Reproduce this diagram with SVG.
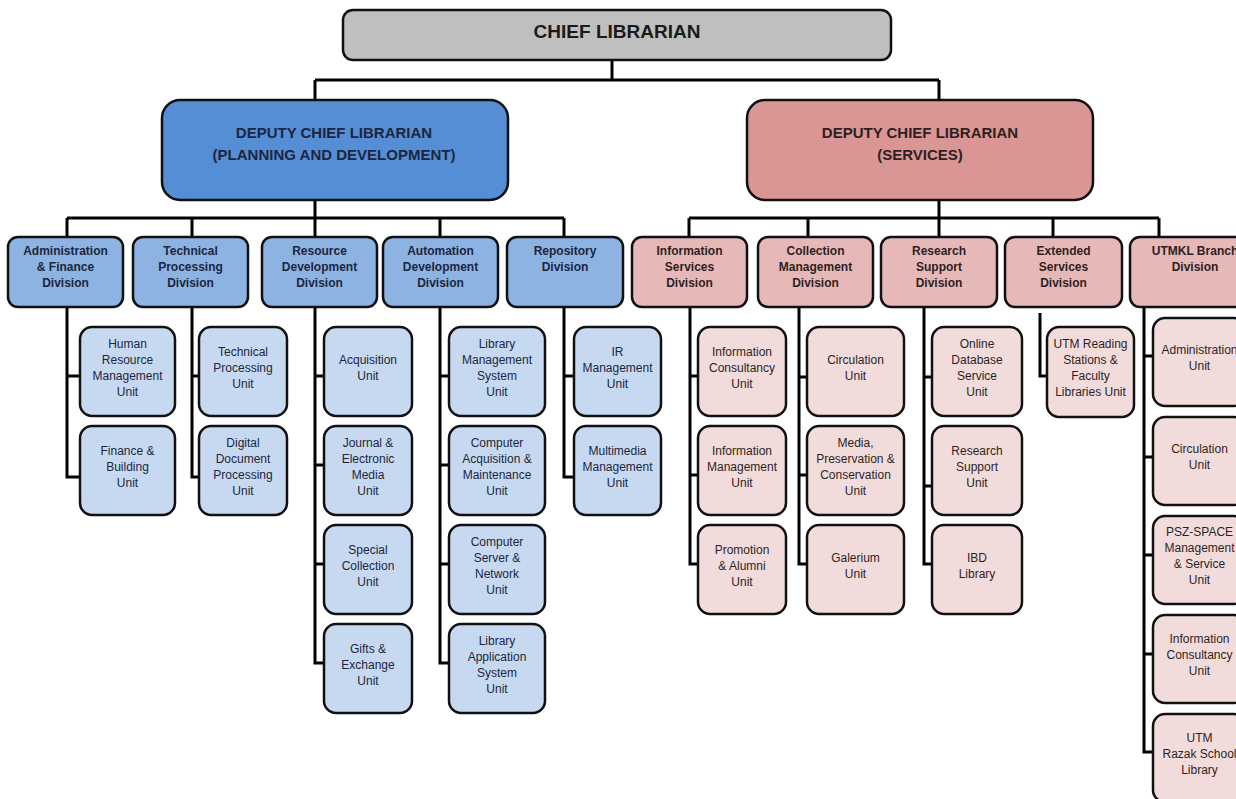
<svg xmlns="http://www.w3.org/2000/svg" width="1236" height="799" viewBox="0 0 1236 799">
<style>
.box{stroke:#111;stroke-width:2.5}
.chief{fill:#bfbfbf}
.dep-b{fill:#558ed5}
.dep-r{fill:#d99694}
.div-b{fill:#8db3e2}
.div-r{fill:#e6b9b8}
.unit-b{fill:#c6d9f1}
.unit-r{fill:#f2dcdb}
#connectors path{fill:none;stroke:#000;stroke-width:3}
text{font-family:"Liberation Sans",Arial,sans-serif;text-anchor:middle}
.tb{fill:#1c2640}
.tr{fill:#2e1f22}
.big{font-size:19px;font-weight:bold;fill:#1a1a1a}
.dep{font-size:15px;font-weight:bold}
.dv{font-size:12px;font-weight:bold}
.un{font-size:12px}
</style>
<rect width="1236" height="799" fill="#fff"/>
<g id="connectors">
<path d="M612 60V80M315 80H939M315 80V100M939 80V100"/>
<path d="M315 200V237M67 218H564M67 218V237M192 218V237M440 218V237M564 218V237"/>
<path d="M939 200V237M689 218H1159M689 218V237M808 218V237M1053 218V237M1159 218V237"/>
<path d="M67 307V477H80M67 376H80"/>
<path d="M192 307V477H199M192 376H199"/>
<path d="M315 307V663H324M315 376H324M315 465H324M315 564H324"/>
<path d="M440 307V663H449M440 376H449M440 465H449M440 564H449"/>
<path d="M564 307V477H574M564 376H574"/>
<path d="M690 307V564H698M690 376H698M690 475H698"/>
<path d="M799 307V564H807M799 377H807M799 475H807"/>
<path d="M924 307V564H932M924 377H932M924 486H932"/>
<path d="M1040 313V376H1047"/>
<path d="M1144 307V752H1153M1144 356H1153M1144 457H1153M1144 555H1153M1144 654H1153"/>
</g>
<g id="chief"><rect class="box chief" x="343" y="10" width="548" height="50" rx="10"/><text class="big" x="617" y="38">CHIEF LIBRARIAN</text></g>
<g id="dep-pd"><rect class="box dep-b" x="162" y="100" width="346" height="100" rx="18"/><text class="dep tb" x="334" y="138">DEPUTY CHIEF LIBRARIAN</text><text class="dep tb" x="334" y="160">(PLANNING AND DEVELOPMENT)</text></g>
<g id="dep-sv"><rect class="box dep-r" x="747" y="100" width="346" height="100" rx="18"/><text class="dep tr" x="920" y="138">DEPUTY CHIEF LIBRARIAN</text><text class="dep tr" x="920" y="160">(SERVICES)</text></g>

<g id="div-admin"><rect class="box div-b" x="8" y="237" width="115" height="70" rx="10"/><text class="dv tb" x="65.5" y="255">Administration</text><text class="dv tb" x="65.5" y="271">&amp; Finance</text><text class="dv tb" x="65.5" y="287">Division</text></g>
<g id="div-tech"><rect class="box div-b" x="133" y="237" width="115" height="70" rx="10"/><text class="dv tb" x="190.5" y="255">Technical</text><text class="dv tb" x="190.5" y="271">Processing</text><text class="dv tb" x="190.5" y="287">Division</text></g>
<g id="div-res"><rect class="box div-b" x="262" y="237" width="115" height="70" rx="10"/><text class="dv tb" x="319.5" y="255">Resource</text><text class="dv tb" x="319.5" y="271">Development</text><text class="dv tb" x="319.5" y="287">Division</text></g>
<g id="div-auto"><rect class="box div-b" x="383" y="237" width="115" height="70" rx="10"/><text class="dv tb" x="440.5" y="255">Automation</text><text class="dv tb" x="440.5" y="271">Development</text><text class="dv tb" x="440.5" y="287">Division</text></g>
<g id="div-repo"><rect class="box div-b" x="507" y="237" width="116" height="70" rx="10"/><text class="dv tb" x="565" y="255">Repository</text><text class="dv tb" x="565" y="271">Division</text></g>
<g id="div-info"><rect class="box div-r" x="632" y="237" width="115" height="70" rx="10"/><text class="dv tr" x="689.5" y="255">Information</text><text class="dv tr" x="689.5" y="271">Services</text><text class="dv tr" x="689.5" y="287">Division</text></g>
<g id="div-coll"><rect class="box div-r" x="758" y="237" width="115" height="70" rx="10"/><text class="dv tr" x="815.5" y="255">Collection</text><text class="dv tr" x="815.5" y="271">Management</text><text class="dv tr" x="815.5" y="287">Division</text></g>
<g id="div-rs"><rect class="box div-r" x="881" y="237" width="116" height="70" rx="10"/><text class="dv tr" x="939" y="255">Research</text><text class="dv tr" x="939" y="271">Support</text><text class="dv tr" x="939" y="287">Division</text></g>
<g id="div-ext"><rect class="box div-r" x="1005" y="237" width="117" height="70" rx="10"/><text class="dv tr" x="1063.5" y="255">Extended</text><text class="dv tr" x="1063.5" y="271">Services</text><text class="dv tr" x="1063.5" y="287">Division</text></g>
<g id="div-utmkl"><rect class="box div-r" x="1130" y="237" width="132" height="70" rx="10"/><text class="dv tr" x="1195" y="255">UTMKL Branch</text><text class="dv tr" x="1195" y="271">Division</text></g>

<g id="u-hr"><rect class="box unit-b" x="80" y="327" width="95" height="89" rx="12"/><text class="un tb" x="127.5" y="347.5">Human</text><text class="un tb" x="127.5" y="363.5">Resource</text><text class="un tb" x="127.5" y="379.5">Management</text><text class="un tb" x="127.5" y="395.5">Unit</text></g>
<g id="u-fin"><rect class="box unit-b" x="80" y="426" width="95" height="89" rx="12"/><text class="un tb" x="127.5" y="454.5">Finance &amp;</text><text class="un tb" x="127.5" y="470.5">Building</text><text class="un tb" x="127.5" y="486.5">Unit</text></g>
<g id="u-tp"><rect class="box unit-b" x="199" y="327" width="88" height="89" rx="12"/><text class="un tb" x="243" y="355.5">Technical</text><text class="un tb" x="243" y="371.5">Processing</text><text class="un tb" x="243" y="387.5">Unit</text></g>
<g id="u-ddp"><rect class="box unit-b" x="199" y="426" width="88" height="89" rx="12"/><text class="un tb" x="243" y="446.5">Digital</text><text class="un tb" x="243" y="462.5">Document</text><text class="un tb" x="243" y="478.5">Processing</text><text class="un tb" x="243" y="494.5">Unit</text></g>
<g id="u-acq"><rect class="box unit-b" x="324" y="327" width="88" height="89" rx="12"/><text class="un tb" x="368" y="363.5">Acquisition</text><text class="un tb" x="368" y="379.5">Unit</text></g>
<g id="u-jem"><rect class="box unit-b" x="324" y="426" width="88" height="89" rx="12"/><text class="un tb" x="368" y="446.5">Journal &amp;</text><text class="un tb" x="368" y="462.5">Electronic</text><text class="un tb" x="368" y="478.5">Media</text><text class="un tb" x="368" y="494.5">Unit</text></g>
<g id="u-sc"><rect class="box unit-b" x="324" y="525" width="88" height="89" rx="12"/><text class="un tb" x="368" y="553.5">Special</text><text class="un tb" x="368" y="569.5">Collection</text><text class="un tb" x="368" y="585.5">Unit</text></g>
<g id="u-ge"><rect class="box unit-b" x="324" y="624" width="88" height="89" rx="12"/><text class="un tb" x="368" y="652.5">Gifts &amp;</text><text class="un tb" x="368" y="668.5">Exchange</text><text class="un tb" x="368" y="684.5">Unit</text></g>
<g id="u-lms"><rect class="box unit-b" x="449" y="327" width="96" height="89" rx="12"/><text class="un tb" x="497" y="347.5">Library</text><text class="un tb" x="497" y="363.5">Management</text><text class="un tb" x="497" y="379.5">System</text><text class="un tb" x="497" y="395.5">Unit</text></g>
<g id="u-cam"><rect class="box unit-b" x="449" y="426" width="96" height="89" rx="12"/><text class="un tb" x="497" y="446.5">Computer</text><text class="un tb" x="497" y="462.5">Acquisition &amp;</text><text class="un tb" x="497" y="478.5">Maintenance</text><text class="un tb" x="497" y="494.5">Unit</text></g>
<g id="u-csn"><rect class="box unit-b" x="449" y="525" width="96" height="89" rx="12"/><text class="un tb" x="497" y="545.5">Computer</text><text class="un tb" x="497" y="561.5">Server &amp;</text><text class="un tb" x="497" y="577.5">Network</text><text class="un tb" x="497" y="593.5">Unit</text></g>
<g id="u-las"><rect class="box unit-b" x="449" y="624" width="96" height="89" rx="12"/><text class="un tb" x="497" y="644.5">Library</text><text class="un tb" x="497" y="660.5">Application</text><text class="un tb" x="497" y="676.5">System</text><text class="un tb" x="497" y="692.5">Unit</text></g>
<g id="u-ir"><rect class="box unit-b" x="574" y="327" width="87" height="89" rx="12"/><text class="un tb" x="617.5" y="355.5">IR</text><text class="un tb" x="617.5" y="371.5">Management</text><text class="un tb" x="617.5" y="387.5">Unit</text></g>
<g id="u-mm"><rect class="box unit-b" x="574" y="426" width="87" height="89" rx="12"/><text class="un tb" x="617.5" y="454.5">Multimedia</text><text class="un tb" x="617.5" y="470.5">Management</text><text class="un tb" x="617.5" y="486.5">Unit</text></g>

<g id="u-ic"><rect class="box unit-r" x="698" y="327" width="88" height="89" rx="12"/><text class="un tr" x="742" y="355.5">Information</text><text class="un tr" x="742" y="371.5">Consultancy</text><text class="un tr" x="742" y="387.5">Unit</text></g>
<g id="u-im"><rect class="box unit-r" x="698" y="426" width="88" height="89" rx="12"/><text class="un tr" x="742" y="454.5">Information</text><text class="un tr" x="742" y="470.5">Management</text><text class="un tr" x="742" y="486.5">Unit</text></g>
<g id="u-pa"><rect class="box unit-r" x="698" y="525" width="88" height="89" rx="12"/><text class="un tr" x="742" y="553.5">Promotion</text><text class="un tr" x="742" y="569.5">&amp; Alumni</text><text class="un tr" x="742" y="585.5">Unit</text></g>
<g id="u-circ"><rect class="box unit-r" x="807" y="327" width="97" height="89" rx="12"/><text class="un tr" x="855.5" y="363.5">Circulation</text><text class="un tr" x="855.5" y="379.5">Unit</text></g>
<g id="u-mpc"><rect class="box unit-r" x="807" y="426" width="97" height="89" rx="12"/><text class="un tr" x="855.5" y="446.5">Media,</text><text class="un tr" x="855.5" y="462.5">Preservation &amp;</text><text class="un tr" x="855.5" y="478.5">Conservation</text><text class="un tr" x="855.5" y="494.5">Unit</text></g>
<g id="u-gal"><rect class="box unit-r" x="807" y="525" width="97" height="89" rx="12"/><text class="un tr" x="855.5" y="561.5">Galerium</text><text class="un tr" x="855.5" y="577.5">Unit</text></g>
<g id="u-ods"><rect class="box unit-r" x="932" y="327" width="90" height="89" rx="12"/><text class="un tr" x="977" y="347.5">Online</text><text class="un tr" x="977" y="363.5">Database</text><text class="un tr" x="977" y="379.5">Service</text><text class="un tr" x="977" y="395.5">Unit</text></g>
<g id="u-rsu"><rect class="box unit-r" x="932" y="426" width="90" height="89" rx="12"/><text class="un tr" x="977" y="454.5">Research</text><text class="un tr" x="977" y="470.5">Support</text><text class="un tr" x="977" y="486.5">Unit</text></g>
<g id="u-ibd"><rect class="box unit-r" x="932" y="525" width="90" height="89" rx="12"/><text class="un tr" x="977" y="561.5">IBD</text><text class="un tr" x="977" y="577.5">Library</text></g>
<g id="u-rsf"><rect class="box unit-r" x="1047" y="327" width="87" height="90" rx="12"/><text class="un tr" x="1090.5" y="348">UTM Reading</text><text class="un tr" x="1090.5" y="364">Stations &amp;</text><text class="un tr" x="1090.5" y="380">Faculty</text><text class="un tr" x="1090.5" y="396">Libraries Unit</text></g>
<g id="u-kl-adm"><rect class="box unit-r" x="1153" y="318" width="93" height="88" rx="12"/><text class="un tr" x="1199.5" y="354">Administration</text><text class="un tr" x="1199.5" y="370">Unit</text></g>
<g id="u-kl-circ"><rect class="box unit-r" x="1153" y="417" width="93" height="88" rx="12"/><text class="un tr" x="1199.5" y="453">Circulation</text><text class="un tr" x="1199.5" y="469">Unit</text></g>
<g id="u-kl-psz"><rect class="box unit-r" x="1153" y="516" width="93" height="88" rx="12"/><text class="un tr" x="1199.5" y="536">PSZ-SPACE</text><text class="un tr" x="1199.5" y="552">Management</text><text class="un tr" x="1199.5" y="568">&amp; Service</text><text class="un tr" x="1199.5" y="584">Unit</text></g>
<g id="u-kl-ic"><rect class="box unit-r" x="1153" y="615" width="93" height="88" rx="12"/><text class="un tr" x="1199.5" y="643">Information</text><text class="un tr" x="1199.5" y="659">Consultancy</text><text class="un tr" x="1199.5" y="675">Unit</text></g>
<g id="u-kl-razak"><rect class="box unit-r" x="1153" y="714" width="93" height="88" rx="12"/><text class="un tr" x="1199.5" y="742">UTM</text><text class="un tr" x="1199.5" y="758">Razak School</text><text class="un tr" x="1199.5" y="774">Library</text></g>
</svg>
